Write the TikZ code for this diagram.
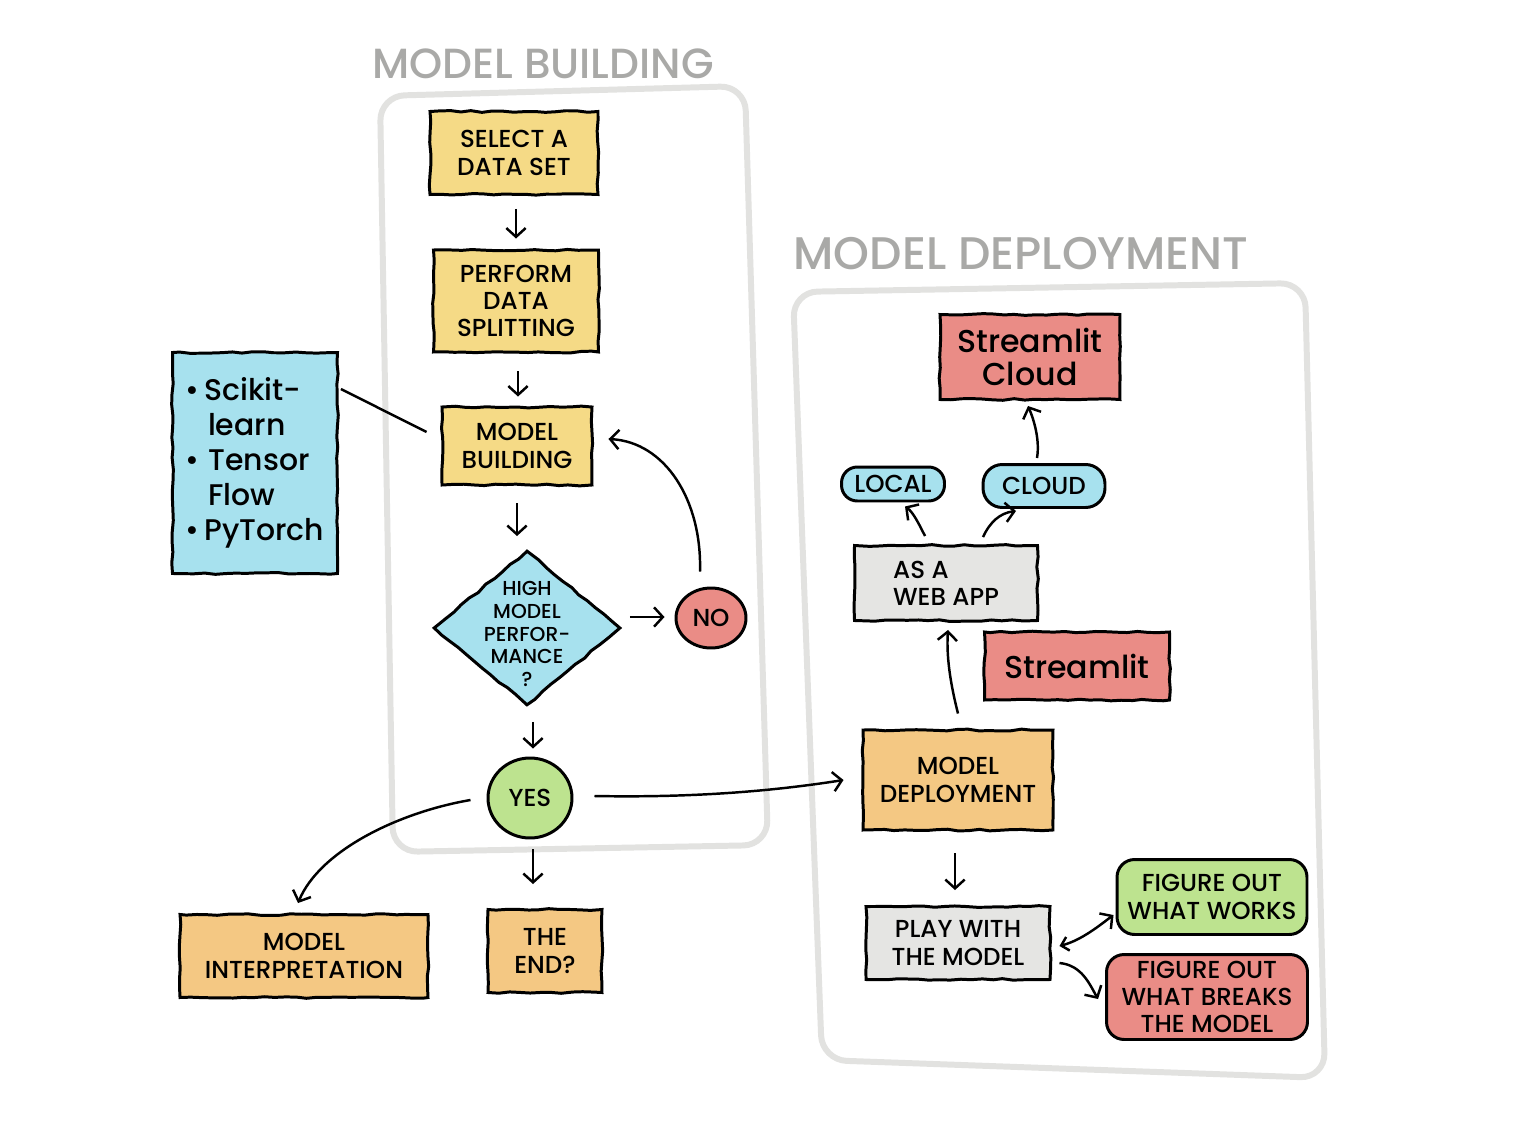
\documentclass[tikz,border=0pt]{standalone}
\usepackage{fontspec}
\setmainfont{Poppins Medium}
\usetikzlibrary{arrows.meta,shapes.geometric,decorations.pathmorphing,calc}
\definecolor{yel}{HTML}{F5DA86}
\definecolor{ora}{HTML}{F4C883}
\definecolor{blu}{HTML}{A7E1EE}
\definecolor{rdd}{HTML}{EA8C86}
\definecolor{grn}{HTML}{BDE38F}
\definecolor{gry}{HTML}{E5E5E3}
\definecolor{pnl}{HTML}{E2E2E0}
\definecolor{ttl}{HTML}{A9A9A7}
\newcommand\labfont{\fontsize{14}{15.5}\selectfont}
\newcommand\diafont{\fontsize{11.5}{13}\selectfont}
\newcommand\toolfont{\fontsize{17}{20}\selectfont}
\newcommand\ttlfontA{\fontsize{24}{26}\selectfont}
\newcommand\ttlfontB{\fontsize{26}{28}\selectfont}
\newcommand\stfont{\fontsize{18}{19}\selectfont}
\begin{document}
\pgfmathsetseed{7}
\begin{tikzpicture}[x=0.02cm,y=-0.02cm,
  sk/.style={decorate,decoration={random steps,segment length=6pt,amplitude=0.5pt}},
  box/.style={draw=black,line width=1.7pt,sk,align=center,inner sep=2pt,font=\labfont},
  blob/.style={draw=black,line width=1.7pt,rounded corners=10pt,align=center,inner sep=2pt,font=\labfont},
  oval/.style={draw=black,line width=1.7pt,ellipse,inner sep=0pt,font=\labfont},
  arr/.style={line width=1.4pt,-{Straight Barb[length=5pt,width=11pt]}},
  darr/.style={line width=1.4pt,{Straight Barb[length=4pt,width=8pt]}-{Straight Barb[length=5pt,width=11pt]}},
  panel/.style={draw=pnl,line width=3.4pt,rounded corners=14pt},
  title/.style={text=ttl}
]
\fill[white] (0,0) rectangle (1514,1132);
\useasboundingbox (0,0) rectangle (1514,1132);

% panels
\draw[panel] (380,96) -- (745,86) -- (768,845) -- (393,852) -- cycle;
\draw[panel] (793,292) -- (1305,283) -- (1325,1078) -- (822,1060) -- cycle;
\node[title,font=\ttlfontA] (t1) at (543,64) {MODEL BUILDING};
\node[title,font=\ttlfontB] (t2) at (1021,254) {MODEL DEPLOYMENT};

% model building nodes
\node[box,fill=yel,minimum width=3.36cm,minimum height=1.66cm] (sel) at (514,153) {SELECT A\\DATA SET};
\node[box,fill=yel,minimum width=3.3cm,minimum height=2.04cm] (split) at (516,301) {PERFORM\\DATA\\SPLITTING};
\node[box,fill=yel,minimum width=3.0cm,minimum height=1.56cm] (mb) at (517,446) {MODEL\\BUILDING};
\node[draw=black,line width=1.7pt,diamond,fill=blu,minimum width=3.74cm,minimum height=3.1cm,inner sep=0pt,sk] (perf) at (527,628) {};
\node[font=\diafont,align=center] (perftxt) at (527,634) {HIGH\\MODEL\\PERFOR-\\MANCE\\?};
\node[oval,fill=rdd,minimum width=1.4cm,minimum height=1.2cm] (no) at (711,618) {NO};
\node[oval,fill=grn,minimum width=1.68cm,minimum height=1.6cm] (yes) at (530,798) {YES};
\node[box,fill=blu,minimum width=3.3cm,minimum height=4.42cm,align=left,font=\toolfont] (tools) at (255,463)
  {\textbullet\,Scikit-\\\hspace{0.75em}learn\\\textbullet\hspace{0.3em}Tensor\\\hspace{0.75em}Flow\\\textbullet\,PyTorch};
\node[box,fill=ora,minimum width=4.96cm,minimum height=1.66cm] (interp) at (304,956) {MODEL\\INTERPRETATION};
\node[box,fill=ora,minimum width=2.28cm,minimum height=1.66cm] (end) at (545,951) {THE\\END?};

% deployment nodes
\node[box,fill=ora,minimum width=3.8cm,minimum height=2.0cm] (deploy) at (958,780) {MODEL\\DEPLOYMENT};
\node[box,fill=gry,minimum width=3.66cm,minimum height=1.5cm,align=left] (webapp) at (946,583) {AS A\\WEB APP\hspace{3.5em}};
\node[box,fill=rdd,minimum width=3.7cm,minimum height=1.36cm,font=\stfont] (st) at (1077,666) {Streamlit};
\node[box,fill=rdd,minimum width=3.6cm,minimum height=1.7cm,font=\stfont] (sc) at (1030,357) {Streamlit\\Cloud};
\node[blob,fill=blu,minimum width=2.06cm,minimum height=0.68cm,rounded corners=9pt] (local) at (893,484) {LOCAL};
\node[blob,fill=blu,minimum width=2.44cm,minimum height=0.86cm,rounded corners=11pt] (cloud) at (1044,486) {CLOUD};
\node[box,fill=gry,minimum width=3.68cm,minimum height=1.46cm] (play) at (958,943) {PLAY WITH\\THE MODEL};
\node[blob,fill=grn,minimum width=3.8cm,minimum height=1.5cm] (works) at (1212,897) {FIGURE OUT\\WHAT WORKS};
\node[blob,fill=rdd,minimum width=4.02cm,minimum height=1.7cm] (breaks) at (1207,997) {FIGURE OUT\\WHAT BREAKS\\THE MODEL};

% connectors: model building
\draw[arr] ($(sel.south)+(2,13)$) -- ($(split.north)+(0,-10)$);
\draw[arr] ($(split.south)+(2,18)$) -- ($(mb.north)+(1,-9)$);
\draw[arr] ($(mb.south)+(0,17)$) -- ($(perf.north)+(-10,-13)$);
\draw[arr] ($(perf.east)+(8,-11)$) -- ($(no.west)+(-10,-1)$);
\draw[arr] ($(no.north)+(-11,-15)$) .. controls (702,500) and (665,442) .. ($(mb.east)+(15,-7)$);
\draw[arr] ($(perf.south)+(6,15)$) -- ($(yes.north)+(3,-8)$);
\draw[arr] ($(yes.west)+(-16,2)$) .. controls (400,812) and (320,850) .. ($(interp.north)+(-6,-10)$);
\draw[arr] ($(yes.south)+(3,10)$) -- ($(end.north)+(-12,-24)$);
\draw[arr] ($(yes.east)+(21,-2)$) .. controls (700,798) and (780,790) .. ($(deploy.west)+(-18,0)$);
\draw[line width=1.4pt] ($(tools.north east)+(2,38)$) -- ($(mb.west)+(-14,-14)$);

% connectors: deployment
\draw[arr] ($(deploy.north)+(0,-15)$) .. controls (952,690) and (946,660) .. ($(webapp.south)+(2,8)$);
\draw[arr] ($(webapp.north)+(-21,-8)$) .. controls (919,524) and (913,512) .. ($(local.south)+(12,4)$);
\draw[arr] ($(webapp.north)+(37,-7)$) .. controls (990,522) and (1000,513) .. ($(cloud.south)+(-28,2)$);
\draw[arr] ($(cloud.north)+(-7,-5)$) .. controls (1040,440) and (1034,420) .. ($(sc.south)+(-2,5)$);
\draw[arr] ($(deploy.south)+(-3,22)$) -- ($(play.north)+(-3,-15)$);
\draw[darr] ($(play.east)+(8,3)$) .. controls (1082,940) and (1100,925) .. ($(works.west)+(-2,18)$);
\draw[arr] ($(play.east)+(8,20)$) .. controls (1082,965) and (1090,985) .. ($(breaks.west)+(-7,2)$);
\end{tikzpicture}
\end{document}
